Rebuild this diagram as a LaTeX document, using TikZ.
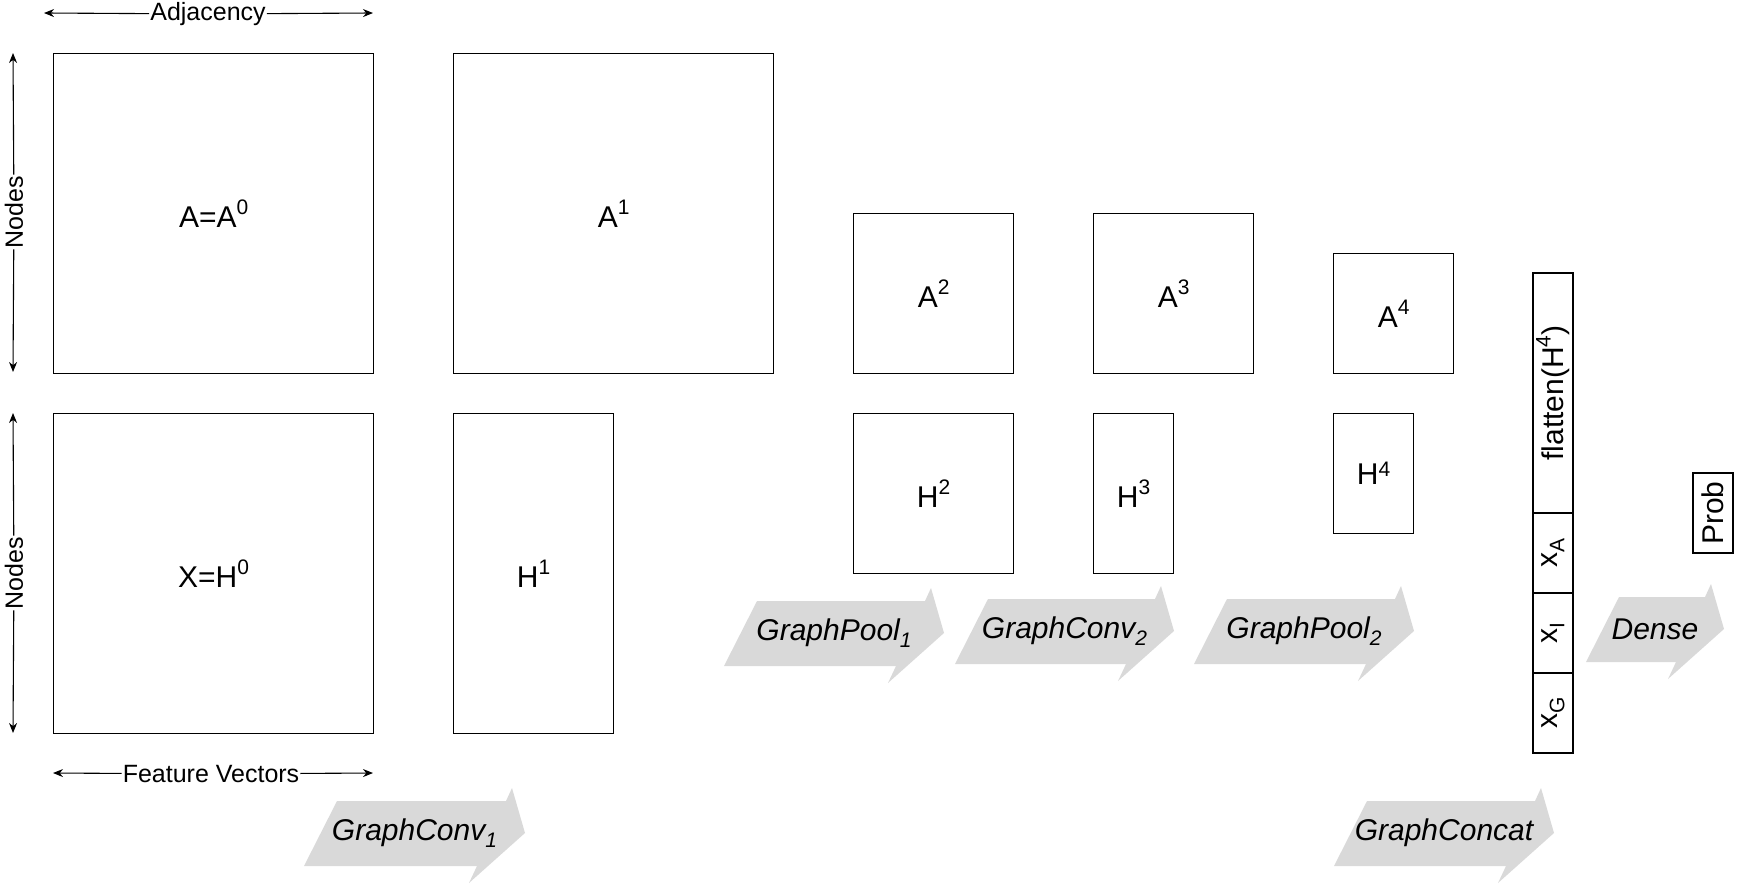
\documentclass[tikz,border=0pt]{standalone}
\usepackage{fontspec}
\setmainfont{Liberation Sans}
\usetikzlibrary{arrows.meta}
\definecolor{arrowgray}{HTML}{D9D9D9}
\newcommand\mysup[2][13pt]{\raisebox{#1}{\fontsize{21}{21}\selectfont #2}}
\newcommand\mysub[1]{\raisebox{-7pt}{\fontsize{21}{21}\selectfont #1}}
\newcommand\bigfont{\fontsize{30}{34}\selectfont}
\newcommand\dimfont{\fontsize{25}{29}\selectfont}
\newcommand\skarrow[5]{%
  \fill[arrowgray] ({#1},{#3+33}) -- ({#1+33},{#3-32}) -- ({#2-19},{#3-32}) -- ({#2-13},{#3-45}) -- ({#2},{#3}) -- ({#2-56},{#3+50}) -- ({#2-48},{#3+33}) -- cycle;
  \node[arrowlabel] (#4) at ({(#1+#2)/2},{#3}) {#5};}
\tikzset{
  box/.style={draw=black, line width=1.3pt, inner sep=0pt, anchor=north west, font=\bigfont},
  vbox/.style={draw=black, line width=1.3pt, inner sep=0pt, anchor=center, rotate=90, font=\bigfont},
  arrowlabel/.style={inner sep=0pt, font=\bigfont\itshape},
  dimlabel/.style={inner sep=1pt, font=\dimfont},
  dimarrow/.style={line width=1.1pt, -{Stealth[length=10pt,width=8pt]}}
}
\begin{document}
\begin{tikzpicture}[x=1pt, y=-1pt]
\useasboundingbox (0,0) rectangle (1751,890);
% big arrows
\skarrow{304}{525}{833}{gc1}{GraphConv\mysub{1}}
\skarrow{724}{944}{633}{gp1}{GraphPool\mysub{1}}
\skarrow{955}{1174}{631}{gc2}{GraphConv\mysub{2}}
\skarrow{1194}{1414}{631}{gp2}{GraphPool\mysub{2}}
\skarrow{1334}{1554}{833}{gcat}{GraphConcat}
\skarrow{1586}{1724}{629}{dense}{Dense}
% matrices
\node[box, minimum width=320pt, minimum height=320pt] (A0) at (53,53) {A=A\mysup{0}};
\node[box, minimum width=320pt, minimum height=320pt] (X0) at (53,413) {X=H\mysup{0}};
\node[box, minimum width=320pt, minimum height=320pt] (A1) at (453,53) {A\mysup{1}};
\node[box, minimum width=160pt, minimum height=320pt] (H1) at (453,413) {H\mysup{1}};
\node[box, minimum width=160pt, minimum height=160pt] (A2) at (853,213) {A\mysup{2}};
\node[box, minimum width=160pt, minimum height=160pt] (H2) at (853,413) {H\mysup{2}};
\node[box, minimum width=160pt, minimum height=160pt] (A3) at (1093,213) {A\mysup{3}};
\node[box, minimum width=80pt, minimum height=160pt] (H3) at (1093,413) {H\mysup{3}};
\node[box, minimum width=120pt, minimum height=120pt] (A4) at (1333,253) {A\mysup{4}};
\node[box, minimum width=80pt, minimum height=120pt] (H4) at (1333,413) {H\mysup[8pt]{4}};
% concatenated vector
\node[vbox, minimum width=240pt, minimum height=40pt] (colF) at (1553,393) {flatten(H\mysup{4})};
\node[vbox, minimum width=80pt, minimum height=40pt] (colA) at (1553,553) {x\mysub{A}};
\node[vbox, minimum width=80pt, minimum height=40pt] (colI) at (1553,633) {x\mysub{I}};
\node[vbox, minimum width=80pt, minimum height=40pt] (colG) at (1553,713) {x\mysub{G}};
\node[vbox, minimum width=80pt, minimum height=40pt] (prob) at (1713,513) {Prob};
% dimension arrows
\coordinate (adjL) at (44,13);
\coordinate (adjR) at (373,13);
\node[dimlabel] (adj) at (208,14) {Adjacency};
\draw[dimarrow] (adj) -- (adjL);
\draw[dimarrow] (adj) -- (adjR);
\coordinate (n1T) at (13,53);
\coordinate (n1B) at (13,372);
\node[dimlabel, rotate=90] (nodes1) at (14,212) {Nodes};
\draw[dimarrow] (nodes1) -- (n1T);
\draw[dimarrow] (nodes1) -- (n1B);
\coordinate (n2T) at (13,413);
\coordinate (n2B) at (13,733);
\node[dimlabel, rotate=90] (nodes2) at (14,573) {Nodes};
\draw[dimarrow] (nodes2) -- (n2T);
\draw[dimarrow] (nodes2) -- (n2B);
\coordinate (fvL) at (53,773);
\coordinate (fvR) at (373,773);
\node[dimlabel] (fv) at (211,774) {Feature Vectors};
\draw[dimarrow] (fv) -- (fvL);
\draw[dimarrow] (fv) -- (fvR);
\end{tikzpicture}
\end{document}
